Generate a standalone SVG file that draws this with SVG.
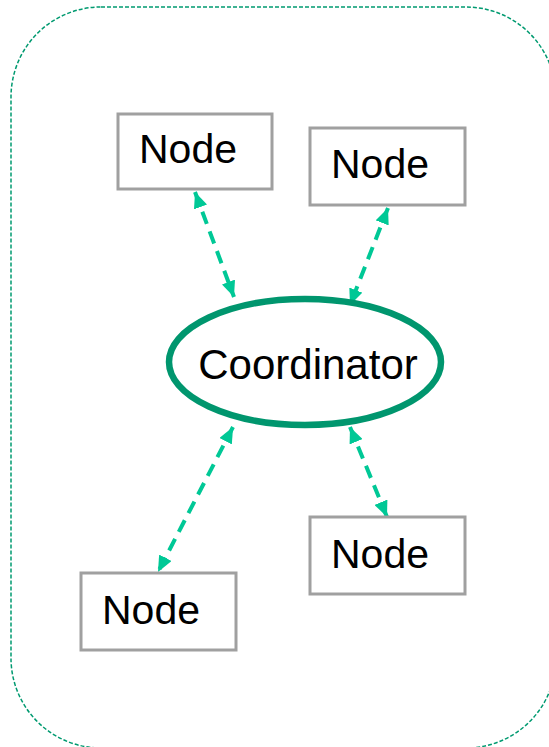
<svg xmlns="http://www.w3.org/2000/svg" width="549" height="747" viewBox="0 0 549 747">
  <style>
    .frame { fill: none; stroke: #009a70; stroke-width: 1.5; stroke-dasharray: 4 2; }
    .node rect { fill: #ffffff; stroke: #a0a0a0; stroke-width: 3; }
    .label { font-family: "Liberation Sans", Arial, sans-serif; font-size: 41px; fill: #000000; }
    .hub ellipse { fill: #ffffff; stroke: #00966e; stroke-width: 6.5; }
    .hub .label { font-size: 42px; }
    .link { fill: none; stroke: #00c896; stroke-width: 4; stroke-dasharray: 13 8; marker-start: url(#tip); marker-end: url(#tip); }
  </style>
  <defs>
    <marker id="tip" markerUnits="userSpaceOnUse" markerWidth="16" markerHeight="14" refX="16" refY="7" orient="auto-start-reverse" viewBox="0 0 16 14">
      <path d="M0,0 L16,7 L0,14 Z" fill="#00c896"/>
    </marker>
  </defs>

  <!-- cluster boundary -->
  <rect class="frame" x="11" y="7" width="545" height="741" rx="90" ry="90"/>

  <!-- links between coordinator and nodes -->
  <g id="connectors">
    <line class="link" x1="195" y1="192" x2="234" y2="297"/>
    <line class="link" x1="388" y1="208" x2="350" y2="305"/>
    <line class="link" x1="233" y1="427" x2="158" y2="572"/>
    <line class="link" x1="350" y1="427" x2="387" y2="517"/>
  </g>

  <g id="coordinator" class="hub">
    <ellipse cx="305" cy="362" rx="136" ry="63"/>
    <text class="label" x="308" y="379" text-anchor="middle">Coordinator</text>
  </g>

  <g id="node-top-left" class="node">
    <rect x="118" y="114" width="154" height="75"/>
    <text class="label" x="139" y="163">Node</text>
  </g>

  <g id="node-top-right" class="node">
    <rect x="310" y="128" width="155" height="77"/>
    <text class="label" x="331" y="178">Node</text>
  </g>

  <g id="node-bottom-left" class="node">
    <rect x="81" y="573" width="155" height="77"/>
    <text class="label" x="102" y="624">Node</text>
  </g>

  <g id="node-bottom-right" class="node">
    <rect x="310" y="517" width="155" height="77"/>
    <text class="label" x="331" y="568">Node</text>
  </g>
</svg>
